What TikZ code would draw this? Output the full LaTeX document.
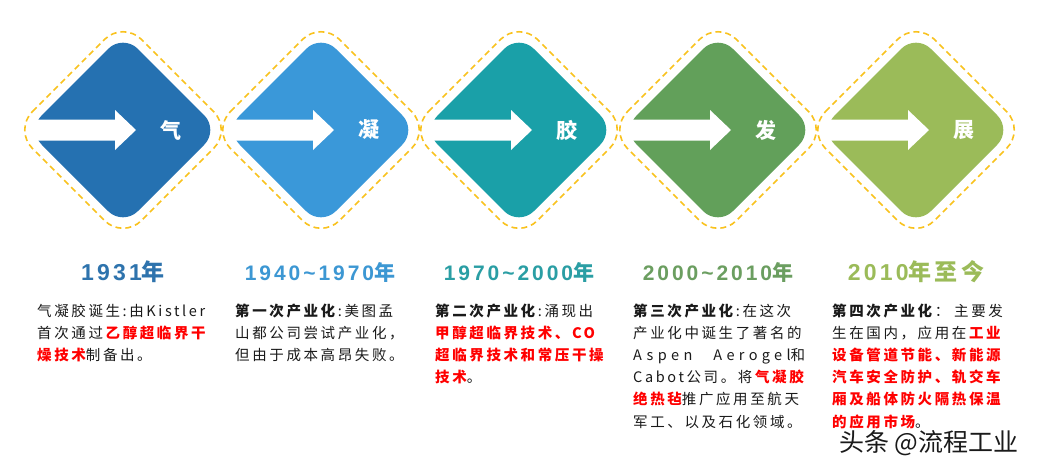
\documentclass[tikz,border=0pt]{standalone}
\usepackage{fontspec}
\setmainfont{Noto Sans CJK SC}[LetterSpace=18]
\newfontfamily\yearfont{Liberation Sans}[LetterSpace=14]
\newfontfamily\yearcjk{Noto Sans CJK SC}[LetterSpace=14]
\newfontfamily\widelatin{Noto Sans CJK SC}[LetterSpace=30]
\newfontfamily\markfont{Noto Sans CJK SC}
\usetikzlibrary{calc}
\definecolor{color_stage_a}{HTML}{2571B1}
\definecolor{color_stage_b}{HTML}{3A98D9}
\definecolor{color_stage_c}{HTML}{1AA0A8}
\definecolor{color_stage_d}{HTML}{62A05A}
\definecolor{color_stage_e}{HTML}{9BBB59}
\definecolor{color_rim}{HTML}{F9C21E}
\definecolor{color_year_a}{HTML}{2E73AD}
\definecolor{color_year_b}{HTML}{3C97D3}
\definecolor{color_year_c}{HTML}{2A9EA4}
\definecolor{color_year_d}{HTML}{6B9E60}
\definecolor{color_year_e}{HTML}{9BBB59}
\definecolor{color_body}{HTML}{1A1A1A}
\definecolor{color_hl}{HTML}{FF0000}
\def\diamondy{130}
\def\rimhalf{109}
\def\bodyhalf{96}
\def\stagediamond[#1](#2){
    \begin{scope}[shift={(#2,\diamondy)}]
        \draw[color_rim, line width=1.6pt, dash pattern=on 6pt off 4pt, rounded corners=26pt]
            (-\rimhalf,0) -- (0,-\rimhalf) -- (\rimhalf,0) -- (0,\rimhalf) -- cycle;
        \fill[#1, rounded corners=21pt]
            (-\bodyhalf,0) -- (0,-\bodyhalf) -- (\bodyhalf,0) -- (0,\bodyhalf) -- cycle;
        % white arrow through the left corner
        \fill[white] (-90,-10.5) -- (-8,-10.5) -- (-8,-20) -- (13,0) -- (-8,20) -- (-8,10.5) -- (-90,10.5) -- cycle;
    \end{scope}
}
\def\redkey#1{\textbf{\textcolor{color_hl}{#1}}}
\def\yr#1{{\yearcjk #1}}

\begin{document}
\begin{tikzpicture}[x=1pt,y=-1pt,
        stage_char/.style={text=white, font=\bfseries\fontsize{21}{21}\selectfont, inner sep=0pt},
        year_label/.style={font=\yearfont\bfseries\fontsize{21}{21}\selectfont, inner sep=0pt},
        year_big/.style={year_label, font=\yearfont\bfseries\fontsize{23}{23}\selectfont},
        stage_text/.style={anchor=base west, text width=185pt, align=left, inner sep=0pt,
            text=color_body, font=\fontsize{14.5}{22.2}\selectfont},
        watermark/.style={text=color_body, font=\markfont\fontsize{25}{25}\selectfont, inner sep=0pt}]
    \useasboundingbox (0,0) rectangle (1039,469);
    \fill[white] (0,0) rectangle (1039,469);
    % the five diamonds
    \foreach \cx/\col/\nm/\ch in {123/color_stage_a/qi/气, 321/color_stage_b/ning/凝,
            519/color_stage_c/jiao/胶, 718/color_stage_d/fa/发, 916/color_stage_e/zhan/展}{
        \stagediamond[\col](\cx)
        \node[stage_char] (char_\nm) at (\cx+48,\diamondy) {\ch};
    }
    % years
    \node[year_big, text=color_year_a] (year_a) at (123,272) {1931\yr{年}};
    \node[year_label, text=color_year_b] (year_b) at (320,272) {1940\textasciitilde1970\yr{年}};
    \node[year_label, text=color_year_c] (year_c) at (519,272) {1970\textasciitilde2000\yr{年}};
    \node[year_label, text=color_year_d] (year_d) at (718,272) {2000\textasciitilde2010\yr{年}};
    \node[year_big, text=color_year_e] (year_e) at (916,272) {2010\yr{年至今}};
    % descriptions
    \node[stage_text] (text_a) at (37,316) {气凝胶诞生:由Kistler\\
        首次通过\redkey{乙醇超临界干}\\
        \redkey{燥技术}制备出。};
    \node[stage_text] (text_b) at (235,316) {\textbf{第一次产业化}:美图孟\\
        山都公司尝试产业化，\\
        但由于成本高昂失败。};
    \node[stage_text] (text_c) at (435,316) {\textbf{第二次产业化}:涌现出\\
        \redkey{甲醇超临界技术、CO}\\
        \redkey{超临界技术和常压干操}\\
        \redkey{技术}。};
    \node[stage_text] (text_d) at (633,316) {\textbf{第三次产业化}:在这次\\
        产业化中诞生了著名的\\
        \makebox[172pt][l]{{\widelatin Aspen}\hfill{\widelatin Aerogel}和}\\
        Cabot公司。将\redkey{气凝胶}\\
        \redkey{绝热毡}推广应用至航天\\
        军工、以及石化领域。};
    \node[stage_text] (text_e) at (832,316) {\textbf{第四次产业化}： 主要发\\
        生在国内，应用在\redkey{工业}\\
        \redkey{设备管道节能、新能源}\\
        \redkey{汽车安全防护、轨交车}\\
        \redkey{厢及船体防火隔热保温}\\
        \redkey{的应用市场}。};
    % watermark
    \node[watermark] (mark) at (929,443) {头条 @流程工业};
\end{tikzpicture}
\end{document}
